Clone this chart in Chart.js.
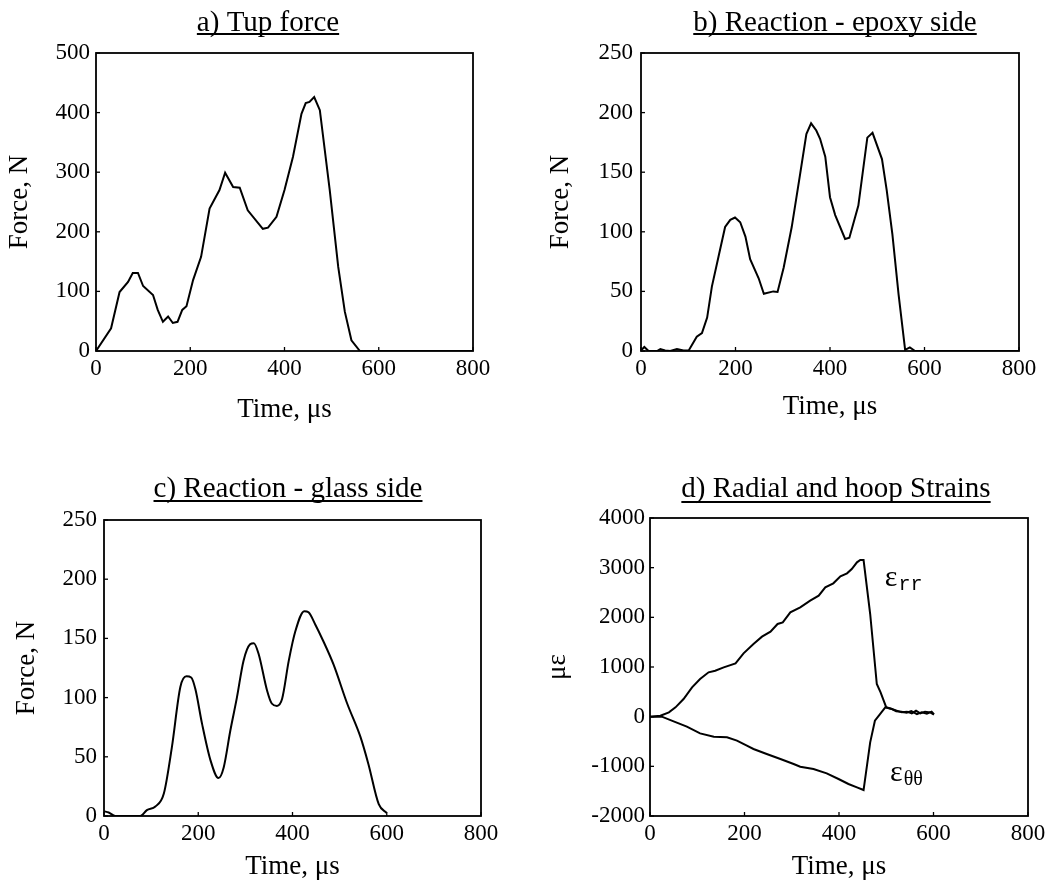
<!DOCTYPE html>
<html>
<head>
<meta charset="utf-8">
<title>Impact force and strain records</title>
<script src="https://cdn.jsdelivr.net/npm/chart.js@4/dist/chart.umd.min.js"></script>
<style>
    body { margin: 0; background: #fff; width: 1054px; height: 888px; position: relative; overflow: hidden; }
    canvas { position: absolute; }
</style>
</head>
<body>
<canvas id="tup" width="527" height="444" style="left:0;top:0"></canvas>
<canvas id="epoxy" width="527" height="444" style="left:527px;top:0"></canvas>
<canvas id="glass" width="527" height="444" style="left:0;top:444px"></canvas>
<canvas id="strain" width="527" height="444" style="left:527px;top:444px"></canvas>
<script>
// a) tup force
const tupTime  = [0, 32, 50, 68, 78, 89, 100, 121, 131, 142, 153, 163, 173, 183, 192, 206, 223, 241, 262, 274, 291, 305, 322, 354, 365, 383, 400, 418, 436, 445, 453, 463, 475, 496, 514, 528, 542, 560, 800];
const tupForce = [0, 38, 99, 116, 131, 131, 109, 94, 69, 49, 58, 47, 49, 69, 75, 119, 158, 239, 270, 299, 275, 274, 236, 205, 207, 225, 270, 326, 398, 416, 418, 426, 404, 270, 141, 66, 18, 0, 0];

// b) reaction, epoxy side
const epoxyTime  = [0, 7, 16, 34, 41, 51, 62, 76, 90, 101, 118, 129, 140, 150, 164, 178, 189, 199, 210, 221, 231, 249, 260, 280, 289, 302, 319, 337, 350, 360, 371, 379, 390, 400, 411, 432, 441, 460, 479, 490, 510, 520, 532, 545, 559, 569, 580, 800];
const epoxyForce = [0.5, 3.4, 0, 0, 1.7, 0.5, 0, 1.7, 0.5, 0.5, 12, 15, 28, 54, 79, 104, 110, 112, 108, 96, 77, 61, 48, 50, 49.5, 70, 104, 149, 182, 191, 185, 178, 163, 129, 114, 94, 95, 122, 179, 183, 161, 135, 98, 48, 1, 3, 0, 0];

// c) reaction, glass side
const glassTime  = [0, 10, 24, 77, 91, 109, 127, 144, 162, 175, 185, 194, 208, 226, 243, 254, 268, 282, 296, 310, 318, 328, 346, 356, 367, 378, 392, 406, 425, 434, 448, 465, 487, 516, 544, 561, 583, 600];
const glassForce = [4, 3, 0, 0, 5, 8, 19, 58, 109, 118, 117, 107, 78, 47, 32, 41, 72, 100, 131, 145, 146, 137, 106, 95, 93, 99, 131, 156, 173, 172, 162, 148, 128, 95, 67, 44, 10, 2.5];

// d) radial and hoop strains, microstrain
const radialTime   = [0, 22, 40, 54, 71, 89, 106, 124, 138, 156, 181, 198, 219, 237, 255, 270, 281, 297, 318, 339, 357, 371, 388, 403, 417, 427, 438, 445, 452, 466, 480, 488, 500, 512, 522, 533, 544, 554, 563, 572, 582, 593, 601];
const radialStrain = [0, 20, 87, 188, 356, 591, 758, 893, 926, 993, 1074, 1275, 1463, 1611, 1711, 1866, 1899, 2101, 2201, 2336, 2436, 2604, 2685, 2826, 2886, 2973, 3107, 3154, 3154, 2067, 658, 490, 188, 154, 121, 87, 101, 67, 121, 67, 101, 87, 40];
const hoopTime   = [0, 25, 50, 78, 106, 135, 163, 184, 205, 219, 247, 276, 304, 318, 346, 374, 399, 420, 438, 452, 466, 476, 486, 498, 510, 521, 532, 543, 553, 565, 575, 586, 596, 601];
const hoopStrain = [0, 0, -94, -201, -336, -403, -416, -483, -584, -651, -752, -852, -953, -1007, -1054, -1141, -1255, -1356, -1423, -1477, -517, -81, 40, 188, 160, 110, 100, 80, 110, 50, 90, 60, 100, 50];

const timeTicks = [0, 800, 200];
const forceTicks = [0, 500, 100];
const reactionTicks = [0, 250, 50];
const strainTicks = [-2000, 4000, 1000];

const SERIF = "'Liberation Serif', 'Times New Roman', serif";

function toPoints(xs, ys) {
    return xs.map((x, i) => ({ x: x, y: ys[i] }));
}

// frame round the plot area, short inward ticks, underlined panel title, curve labels
const panelDecor = {
    id: "panelDecor",
    afterDraw(chart, args, opts) {
        const ctx = chart.ctx;
        const a = chart.chartArea;
        const xs = chart.scales.x;
        const ys = chart.scales.y;
        ctx.save();
        ctx.strokeStyle = "#000";
        ctx.lineWidth = 1.8;
        ctx.strokeRect(a.left, a.top, a.right - a.left, a.bottom - a.top);

        ctx.lineWidth = 1.3;
        xs.ticks.forEach(t => {
            const px = xs.getPixelForValue(t.value);
            ctx.beginPath();
            ctx.moveTo(px, a.bottom);
            ctx.lineTo(px, a.bottom - 4);
            ctx.stroke();
        });
        ys.ticks.forEach(t => {
            const py = ys.getPixelForValue(t.value);
            ctx.beginPath();
            ctx.moveTo(a.left, py);
            ctx.lineTo(a.left + 4, py);
            ctx.stroke();
        });

        ctx.fillStyle = "#000";
        ctx.font = "29px " + SERIF;
        ctx.textAlign = "center";
        ctx.textBaseline = "alphabetic";
        const cx = (a.left + a.right) / 2 + opts.dx;
        ctx.fillText(opts.text, cx, opts.baseline);
        const w = ctx.measureText(opts.text).width;
        ctx.fillRect(cx - w / 2, opts.underline, w, 2);

        (opts.labels || []).forEach(l => {
            const lx = xs.getPixelForValue(l.x);
            const ly = ys.getPixelForValue(l.y);
            ctx.textAlign = "left";
            ctx.font = "30px " + SERIF;
            ctx.fillText("ε", lx, ly);
            const ew = ctx.measureText("ε").width;
            ctx.font = l.subFont;
            ctx.fillText(l.sub, lx + ew + 1, ly + 4);
        });
        ctx.restore();
    }
};

function makePanel(id, series, yTicks, yTitle, lay, decor) {
    const el = document.getElementById(id);
    return new Chart(el.getContext("2d"), {
        type: "line",
        data: {
            datasets: series.map(s => ({
                data: s.data,
                borderColor: "#000",
                borderWidth: 2,
                pointRadius: 0,
                fill: false,
                tension: 0,
                cubicInterpolationMode: s.smooth ? "monotone" : "default"
            }))
        },
        options: {
            responsive: false,
            animation: false,
            events: [],
            layout: { padding: { left: 0, top: lay.top, right: lay.right, bottom: 0 } },
            plugins: {
                legend: { display: false },
                tooltip: { enabled: false },
                title: { display: false },
                panelDecor: decor
            },
            scales: {
                x: {
                    type: "linear",
                    min: timeTicks[0],
                    max: timeTicks[1],
                    ticks: { stepSize: timeTicks[2], padding: 4, color: "#000", font: { family: SERIF, size: 23 }, format: { useGrouping: false } },
                    grid: { display: false, drawTicks: false },
                    border: { display: false },
                    title: { display: true, text: "Time, μs", color: "#000", font: { family: SERIF, size: 27 }, padding: { top: 0, bottom: lay.xTitlePad } },
                    afterFit: (scale) => { scale.height = lay.xh; }
                },
                y: {
                    min: yTicks[0],
                    max: yTicks[1],
                    ticks: { stepSize: yTicks[2], padding: lay.yTickPad, color: "#000", font: { family: SERIF, size: 23 }, format: { useGrouping: false } },
                    grid: { display: false, drawTicks: false },
                    border: { display: false },
                    title: { display: true, text: yTitle, color: "#000", font: { family: SERIF, size: 27 }, padding: { top: lay.yTitlePad, bottom: 0 } },
                    afterFit: (scale) => { scale.width = lay.yw; }
                }
            }
        },
        plugins: [panelDecor]
    });
}

document.addEventListener("DOMContentLoaded", function () {
    makePanel("tup",
        [{ data: toPoints(tupTime, tupForce) }],
        forceTicks, "Force, N",
        { yw: 96, top: 53, right: 54, xh: 93, yTickPad: 6, yTitlePad: 4, xTitlePad: 18 },
        { text: "a) Tup force", dx: -16.5, baseline: 31, underline: 33 });

    makePanel("epoxy",
        [{ data: toPoints(epoxyTime, epoxyForce) }],
        reactionTicks, "Force, N",
        { yw: 114, top: 53, right: 35, xh: 93, yTickPad: 8, yTitlePad: 18, xTitlePad: 21 },
        { text: "b) Reaction - epoxy side", dx: 5, baseline: 31, underline: 33 });

    makePanel("glass",
        [{ data: toPoints(glassTime, glassForce), smooth: true }],
        reactionTicks, "Force, N",
        { yw: 104, top: 76, right: 46, xh: 72, yTickPad: 7, yTitlePad: 10.5, xTitlePad: 5 },
        { text: "c) Reaction - glass side", dx: -4.5, baseline: 53, underline: 56 });

    makePanel("strain",
        [{ data: toPoints(radialTime, radialStrain) }, { data: toPoints(hoopTime, hoopStrain) }],
        strainTicks, "με",
        { yw: 123, top: 74, right: 26, xh: 72, yTickPad: 5, yTitlePad: 15, xTitlePad: 5 },
        {
            text: "d) Radial and hoop Strains", dx: -3, baseline: 53, underline: 57,
            labels: [
                { x: 497, y: 2630, sub: "rr", subFont: "20px 'Liberation Mono', monospace" },
                { x: 508, y: -1295, sub: "θθ", subFont: "20px " + SERIF }
            ]
        });
});
</script>
</body>
</html>
